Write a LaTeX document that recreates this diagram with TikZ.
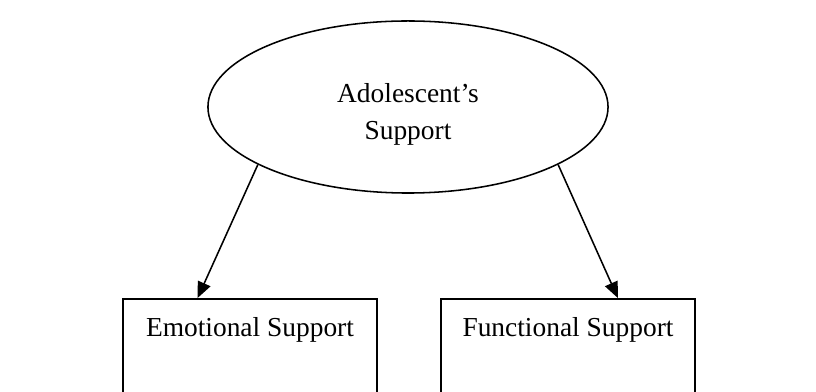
\documentclass[tikz,border=0pt]{standalone}
\usepackage{fontspec}
\setmainfont{Liberation Serif}
\usetikzlibrary{arrows.meta, positioning, shapes.geometric, calc}

\begin{document}
\begin{tikzpicture}[
  x=0.025cm, y=-0.025cm,
  every node/.style={font=\fontsize{19.5}{26.3}\selectfont},
  top/.style={draw, ellipse, line width=1.1pt,
              minimum width=10cm, minimum height=4.3cm,
              inner sep=0pt, align=center},
  box/.style={draw, line width=1.1pt, anchor=north,
              minimum width=6.35cm, inner sep=0pt,
              text height=0.95cm, text depth=2.4cm},
  arr/.style={-{Triangle[length=0.4cm, width=0.34cm]}, line width=1.1pt}
]
\clip (0,0) rectangle (816,392);

% Main construct
\node[top] (sup) at (408,107) {\rule{0pt}{24.5pt}Adolescent's\\Support};

% Dimensions
\node[box] (emo) at (250,298) {Emotional Support};
\node[box] (fun) at (568,298) {Functional Support};

% Arrows
\draw[arr] (sup.201) -- ($(emo.north)!0.41!(emo.north west)$);
\draw[arr] (sup.339) -- ($(fun.north)!0.39!(fun.north east)$);
\end{tikzpicture}
\end{document}
